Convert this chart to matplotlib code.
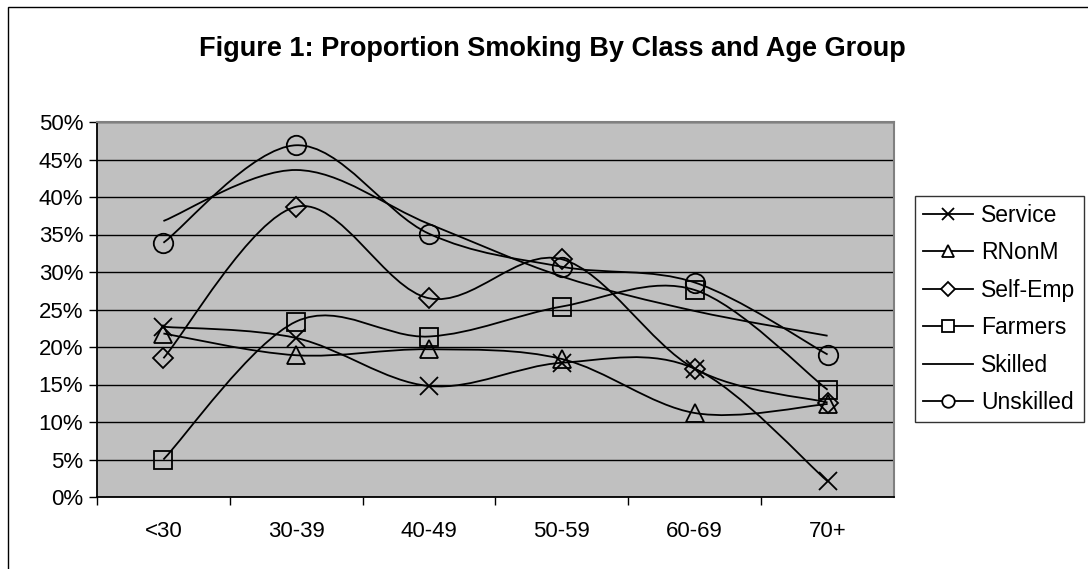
import matplotlib
matplotlib.use('Agg')
import matplotlib.pyplot as plt
from matplotlib.path import Path
from matplotlib.patches import PathPatch, Rectangle
from matplotlib.lines import Line2D
from matplotlib.ticker import PercentFormatter, FixedLocator

plt.rcParams['font.family'] = ['Liberation Sans', 'DejaVu Sans']

age_groups = ['<30', '30-39', '40-49', '50-59', '60-69', '70+']

service = [22.7, 21.2, 14.8, 17.9, 17.1, 2.1]
rnonm = [21.8, 18.9, 19.7, 18.4, 11.2, 12.4]
self_emp = [18.5, 38.7, 26.5, 31.7, 17.1, 12.6]
farmers = [5.0, 23.4, 21.4, 25.4, 27.6, 14.3]
skilled = [36.8, 43.6, 36.4, 29.4, 24.8, 21.5]
unskilled = [33.9, 46.9, 35.1, 30.7, 28.6, 19.0]

series_names = ['Service', 'RNonM', 'Self-Emp', 'Farmers', 'Skilled', 'Unskilled']
series_values = [service, rnonm, self_emp, farmers, skilled, unskilled]
series_markers = ['x', '^', 'D', 's', None, 'o']
marker_sizes = {'x': 13, '^': 13, 'D': 10, 's': 13, 'o': 14}


def smooth_path(xs, ys):
    """Excel-style smoothed line as cubic bezier segments (Catmull-Rom)."""
    pts = list(zip(xs, ys))
    n = len(pts)
    verts = [pts[0]]
    codes = [Path.MOVETO]
    for i in range(n - 1):
        p0 = pts[i - 1] if i > 0 else pts[i]
        p1 = pts[i]
        p2 = pts[i + 1]
        p3 = pts[i + 2] if i + 2 < n else pts[i + 1]
        c1 = (p1[0] + (p2[0] - p0[0]) / 6, p1[1] + (p2[1] - p0[1]) / 6)
        c2 = (p2[0] - (p3[0] - p1[0]) / 6, p2[1] - (p3[1] - p1[1]) / 6)
        verts += [c1, c2, p2]
        codes += [Path.CURVE4] * 3
    return Path(verts, codes)


W, H = 1088, 569
fig = plt.figure(figsize=(W / 100, H / 100), dpi=100)
fig.patch.set_facecolor('white')

# outer chart frame
fig.add_artist(Rectangle((8 / W, -0.01), 1.02, 1 - 7 / H + 0.01, transform=fig.transFigure,
                         fill=False, edgecolor='black', linewidth=1.0))

ax = fig.add_axes([97 / W, 1 - 497 / H, (894 - 97) / W, (497 - 122) / H])
ax.set_facecolor('#C0C0C0')

x = list(range(len(age_groups)))
for name, vals, mk in zip(series_names, series_values, series_markers):
    ax.add_patch(PathPatch(smooth_path(x, vals), fill=False, edgecolor='black',
                           linewidth=1.3, zorder=3))
    if mk is not None:
        ax.plot(x, vals, linestyle='none', marker=mk, markersize=marker_sizes[mk],
                markerfacecolor='none', markeredgecolor='black', markeredgewidth=1.3,
                zorder=4)

ax.set_xlim(-0.5, len(age_groups) - 0.5)
ax.set_ylim(0, 50)
ax.yaxis.set_major_locator(FixedLocator(range(0, 51, 5)))
ax.yaxis.set_major_formatter(PercentFormatter(decimals=0))
ax.grid(axis='y', color='black', linewidth=1.0)
ax.set_axisbelow(True)

ax.set_xticks(x)
ax.set_xticklabels(age_groups)
ax.set_xticks([i + 0.5 for i in range(-1, len(age_groups) - 1)], minor=True)
ax.tick_params(axis='x', which='major', length=0, pad=17, labelsize=16)
ax.tick_params(axis='x', which='minor', length=5.5, width=1, color='black', direction='out')
ax.tick_params(axis='y', length=6, width=1, direction='out', pad=4, labelsize=16)

for side in ['top', 'right']:
    ax.spines[side].set_color('#808080')
    ax.spines[side].set_linewidth(1.5)
for side in ['left', 'bottom']:
    ax.spines[side].set_color('black')
    ax.spines[side].set_linewidth(1.3)

fig.text(552 / W, 1 - 49 / H, 'Figure 1: Proportion Smoking By Class and Age Group',
         ha='center', va='center', fontsize=19.5, fontweight='bold')

handles = []
for name, mk in zip(series_names, series_markers):
    handles.append(Line2D([], [], color='black', linewidth=1.3, marker=mk,
                          markersize=9 if mk != 'D' else 7, markerfacecolor='white',
                          markeredgecolor='black', markeredgewidth=1.3))
leg = fig.legend(handles, series_names, loc='upper left',
                 bbox_to_anchor=(915 / W, 1 - 196 / H), bbox_transform=fig.transFigure,
                 frameon=True, fancybox=False, fontsize=16.5, handlelength=2.2,
                 handletextpad=0.35, labelspacing=0.63, borderpad=0.35, borderaxespad=0)
leg.get_frame().set_edgecolor('black')
leg.get_frame().set_linewidth(1.0)

fig.savefig('out.png', dpi=100)
